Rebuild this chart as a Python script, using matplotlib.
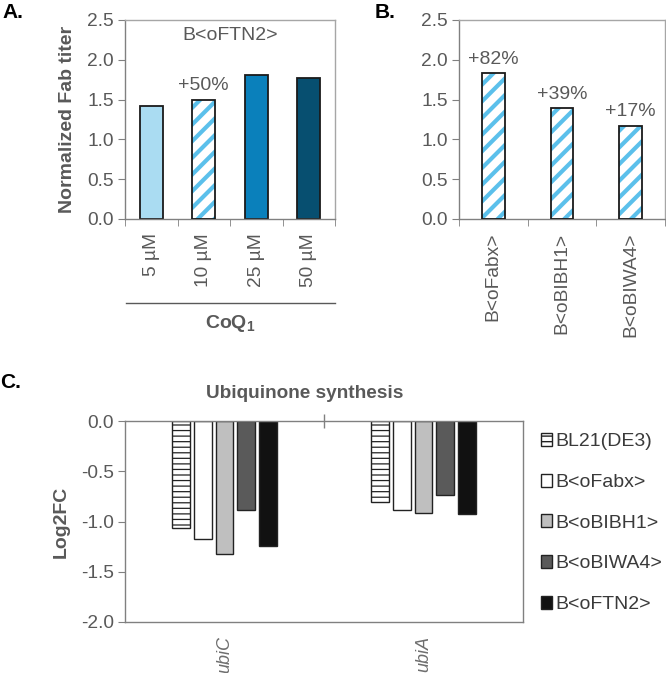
import matplotlib
matplotlib.use("Agg")
import matplotlib.pyplot as plt
import numpy as np
from matplotlib.patches import Patch
from matplotlib.lines import Line2D

plt.rcParams['font.family'] = ['Liberation Sans', 'DejaVu Sans']
plt.rcParams['mathtext.fontset'] = 'custom'
plt.rcParams['mathtext.bf'] = 'Liberation Sans:bold'
plt.rcParams['mathtext.rm'] = 'Liberation Sans'

# ---- data ----
conc_labels = ['5 µM', '10 µM', '25 µM', '50 µM']
conc_values = [1.42, 1.50, 1.81, 1.77]
conc_colors = ['#aadcf2', None, '#0a80bb', '#074f70']

strain_labels = ['B<oFabx>', 'B<oBIBH1>', 'B<oBIWA4>']
strain_values = [1.83, 1.39, 1.17]
strain_annot = ['+82%', '+39%', '+17%']

genes = ['ubiC', 'ubiA']
series_names = ['BL21(DE3)', 'B<oFabx>', 'B<oBIBH1>', 'B<oBIWA4>', 'B<oFTN2>']
series_values = {
    'BL21(DE3)': [-1.06, -0.81],
    'B<oFabx>': [-1.17, -0.89],
    'B<oBIBH1>': [-1.32, -0.92],
    'B<oBIWA4>': [-0.89, -0.74],
    'B<oFTN2>': [-1.24, -0.93],
}
series_colors = ['white', 'white', '#bfbfbf', '#5a5a5a', '#111111']

W, H = 666, 673
fig = plt.figure(figsize=(W / 100, H / 100), dpi=100)

def ax_px(l, t, r, b):
    return fig.add_axes([l / W, 1 - b / H, (r - l) / W, (b - t) / H])

TXT = '#595959'
HATCHBLUE = '#5bc0eb'
FS = 14

def style_ab(ax, ncat):
    ax.set_ylim(0, 2.5)
    ax.set_yticks(np.arange(0, 2.51, 0.5))
    ax.set_yticklabels([f'{v:.1f}' for v in np.arange(0, 2.51, 0.5)])
    ax.set_xlim(-0.5, ncat - 0.5)
    ax.set_xticks(np.arange(ncat))
    ax.set_xticks(np.arange(ncat + 1) - 0.5, minor=True)
    ax.tick_params(axis='x', which='major', length=0, pad=10, labelsize=13.8,
                   labelcolor=TXT, rotation=90)
    ax.tick_params(axis='x', which='minor', length=5, color='#808080', direction='out')
    ax.tick_params(axis='y', length=5, color='#808080', labelsize=13.8, labelcolor=TXT, pad=3)
    for s in ['left', 'bottom']:
        ax.spines[s].set_color('#808080')
    for s in ['top', 'right']:
        ax.spines[s].set_color('#a6a6a6')
    for s in ax.spines.values():
        s.set_linewidth(1)

def hatched_bar(ax, x, h, w):
    b = ax.bar(x, h, w, color='white', edgecolor=HATCHBLUE, hatch='//', linewidth=0, zorder=2)
    for p in b:
        if hasattr(p, 'set_hatch_linewidth'):
            p.set_hatch_linewidth(3)
    ax.bar(x, h, w, color='none', edgecolor='#1a1a1a', linewidth=1.3, zorder=3)

# ---- Panel A ----
axA = ax_px(125, 20, 335, 219)
xa = np.arange(len(conc_labels))
for i, (v, c) in enumerate(zip(conc_values, conc_colors)):
    if c is None:
        hatched_bar(axA, xa[i], v, 0.44)
    else:
        axA.bar(xa[i], v, 0.44, color=c, edgecolor='#1a1a1a', linewidth=1.3, zorder=2)
style_ab(axA, 4)
axA.set_xticklabels(conc_labels, va='top', ha='center')
axA.set_ylabel('Normalized Fab titer', fontsize=FS, fontweight='bold', color=TXT, labelpad=8)
axA.text(0.5, 0.92, 'B<oFTN2>', transform=axA.transAxes, ha='center', va='center',
         fontsize=FS, color=TXT)
axA.annotate('+50%', (xa[1], conc_values[1]), xytext=(0, 4), textcoords='offset points',
             ha='center', va='bottom', fontsize=FS, color=TXT)

fig.add_artist(Line2D([126 / W, 335 / W], [1 - 303 / H, 1 - 303 / H], color='#595959', lw=1))
fig.text(230 / W, 1 - 323 / H, r'CoQ$_\mathbf{1}$', ha='center', va='center',
         fontsize=FS, fontweight='bold', color=TXT)

# ---- Panel B ----
axB = ax_px(459, 20, 665, 219)
xb = np.arange(len(strain_labels))
for i, v in enumerate(strain_values):
    hatched_bar(axB, xb[i], v, 0.33)
    axB.annotate(strain_annot[i], (xb[i], v), xytext=(0, 4), textcoords='offset points',
                 ha='center', va='bottom', fontsize=FS, color=TXT)
style_ab(axB, 3)
axB.set_xticklabels(strain_labels, va='top', ha='center')

fig.text(2 / W, 1 - 13 / H, 'A.', fontsize=15, fontweight='bold', ha='left', va='center')
fig.text(375 / W, 1 - 12 / H, 'B.', fontsize=15, fontweight='bold', ha='left', va='center')
fig.text(0 / W, 1 - 383 / H, 'C.', fontsize=15, fontweight='bold', ha='left', va='center')

# ---- Panel C ----
axC = ax_px(125, 421, 523, 622)
xg = np.arange(len(genes))
step, bw = 0.11, 0.09
handles = []
for k, name in enumerate(series_names):
    off = (k - 2) * step
    vals = series_values[name]
    if name == 'BL21(DE3)':
        bars = axC.bar(xg + off, vals, bw, color='white', edgecolor='#222222',
                       hatch='---', linewidth=1.0, zorder=2)
        for p in bars:
            if hasattr(p, 'set_hatch_linewidth'):
                p.set_hatch_linewidth(0.9)
        h = Patch(facecolor='white', edgecolor='#222222', hatch='---', linewidth=1.0)
    else:
        axC.bar(xg + off, vals, bw, color=series_colors[k], edgecolor='#222222',
                linewidth=1.0, zorder=2)
        h = Patch(facecolor=series_colors[k], edgecolor='#222222', linewidth=1.0)
    handles.append(h)

axC.set_ylim(-2.0, 0.0)
axC.set_xlim(-0.5, 1.5)
yt = np.arange(-2.0, 0.01, 0.5)
axC.set_yticks(yt)
axC.set_yticklabels([f'{v:.1f}' for v in yt])
axC.tick_params(axis='y', length=5, color='#808080', labelsize=13.8, labelcolor=TXT, pad=3)
axC.set_xticks(xg)
axC.set_xticklabels(genes, rotation=90, va='top', ha='center', style='italic')
axC.tick_params(axis='x', which='major', length=0, pad=10, labelsize=13, labelcolor='#6e6e6e')
axC.set_xticks([0.5], minor=True)
axC.tick_params(axis='x', which='minor', top=True, bottom=False, direction='inout',
                length=10, color='#808080', width=1)
for s in axC.spines.values():
    s.set_color('#808080')
    s.set_linewidth(1)
axC.set_ylabel('Log2FC', fontsize=FS, fontweight='bold', color=TXT, labelpad=8)
fig.text(305 / W, 1 - 393 / H, 'Ubiquinone synthesis', ha='center', va='center',
         fontsize=13.7, fontweight='bold', color=TXT)

leg = fig.legend(handles, series_names, loc='center left',
                 bbox_to_anchor=(541 / W, 1 - 523 / H), frameon=False,
                 prop={'size': 14}, labelcolor='#3a3a3a',
                 handlelength=0.55, handleheight=0.65, handletextpad=0.2,
                 labelspacing=1.2, borderpad=0, borderaxespad=0)

fig.savefig('out.png', dpi=100)
